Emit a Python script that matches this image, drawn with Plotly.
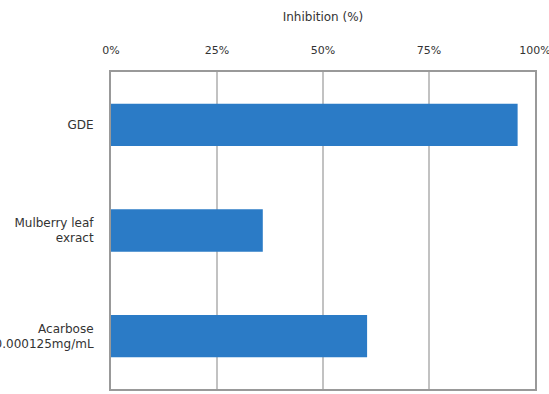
import plotly.graph_objects as go

categories = ["GDE", "Mulberry leaf<br>exract", "Acarbose<br>0.000125mg/mL"]
inhibition = [95.9, 35.8, 60.4]
tick_vals = [0, 25, 50, 75, 100]
tick_text = ["0%", "25%", "50%", "75%", "100%"]

fig = go.Figure(go.Bar(
    x=inhibition, y=categories, orientation="h",
    marker=dict(color="#2b7bc6", line=dict(width=0)),
    width=0.4,
))

fig.update_layout(
    width=549, height=394,
    margin=dict(l=111, r=14, t=72, b=5),
    paper_bgcolor="white", plot_bgcolor="white",
    font=dict(family="DejaVu Sans, sans-serif", size=11, color="#333"),
    showlegend=False,
)
fig.update_xaxes(
    side="top", range=[0, 100], tickvals=tick_vals, ticktext=tick_text,
    showgrid=True, gridcolor="#c2c2c2", gridwidth=1.5,
    showline=True, mirror=True, linecolor="#999", linewidth=2,
    zeroline=False, ticks="", ticklabelstandoff=12, ticklabeloverflow="allow",
    tickfont=dict(size=11, color="#333"),
    title=dict(text="Inhibition (%)", font=dict(size=12, color="#333"), standoff=19),
    automargin=False, fixedrange=True,
)
fig.update_yaxes(
    autorange="reversed", showgrid=False,
    showline=True, mirror=True, linecolor="#999", linewidth=2,
    ticks="", ticklabelstandoff=13, ticklabeloverflow="allow",
    tickfont=dict(size=12, color="#333"),
    automargin=False, fixedrange=True,
)

fig.write_html("out.html")
